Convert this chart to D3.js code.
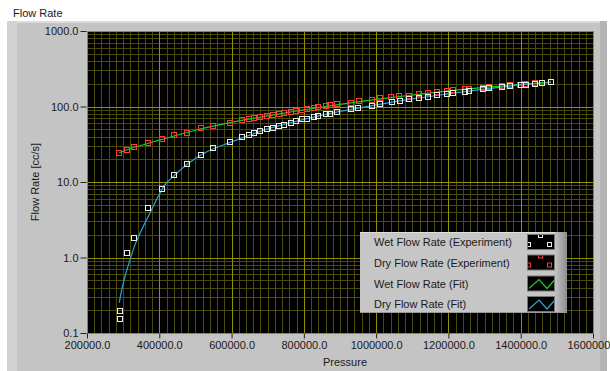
<!DOCTYPE html>
<html>
<head>
<meta charset="utf-8">
<script src="https://cdn.jsdelivr.net/npm/d3@7"></script>
<style>
  body { margin: 0; background: #fff; }
  svg text { font-family: "Liberation Sans", Arial, sans-serif; font-size: 11px; fill: #1a1a1a; }
</style>
</head>
<body>
<svg id="chart" width="610" height="371"></svg>
<script>
// measured points
const wetPressure = [290500, 290500, 309800, 330800, 369600, 407500, 441500, 477400, 514500, 549400, 596400, 629600, 647300, 661100, 679400, 698700, 713700, 731900, 744100, 764300, 778100, 795600, 808600, 828800, 838200, 861100, 872200, 891500, 929400, 950500, 987500, 1010500, 1042800, 1065800, 1091500, 1119200, 1144100, 1167300, 1195000, 1213200, 1245600, 1255800, 1294600, 1312800, 1347100, 1370100, 1399700, 1414300, 1439200, 1459400, 1482700];
const wetFlow = [0.152, 0.196, 1.14, 1.79, 4.53, 8.17, 12.4, 17.4, 22.9, 28.0, 33.4, 38.9, 41.3, 43.9, 46.7, 49.6, 52.3, 55.6, 57.3, 60.9, 63.4, 67.4, 68.9, 73.2, 74.6, 80.2, 80.2, 84.8, 91.5, 96.4, 101.2, 106.6, 114.4, 118.0, 124.2, 130.9, 134.9, 140.3, 146.1, 152.5, 157.2, 158.7, 168.8, 173.9, 183.2, 186.6, 194.8, 194.8, 200.9, 202.6, 210.9];

const dryPressure = [289300, 309800, 330800, 369600, 407500, 441500, 477400, 514500, 549400, 596400, 629600, 647300, 661100, 679400, 698700, 713700, 731900, 744100, 764300, 778100, 795600, 808600, 828800, 838200, 861100, 872200, 891500, 929400, 953200, 987500, 1010500, 1040900, 1063900, 1090700, 1118400, 1142400, 1167300, 1195000, 1213200, 1245600, 1255800, 1294600, 1312800, 1347100, 1370100, 1397700, 1411600, 1439200, 1459400, 1482700];
const dryFlow = [24.3, 26.4, 28.9, 32.4, 36.6, 41.3, 44.9, 51.2, 55.6, 60.9, 65.4, 68.9, 71.0, 73.2, 75.5, 76.9, 79.3, 81.7, 84.3, 87.9, 90.7, 93.5, 96.4, 98.2, 101.2, 103.5, 106.6, 112.3, 116.9, 121.6, 128.1, 132.2, 136.2, 139.1, 146.1, 149.3, 153.9, 162.2, 163.0, 172.3, 172.5, 177.7, 181.2, 188.9, 192.4, 194.8, 196.5, 202.6, 207.0, 210.9];

// fitted curves
const dryFitPressure = [289300, 330000, 400000, 500000, 600000, 700000, 800000, 900000, 1000000, 1100000, 1200000, 1300000, 1400000, 1482700];
const dryFitFlow = [24.5, 28.6, 35.8, 48.5, 61.5, 75, 90.5, 107, 124, 142, 161, 179, 196, 210];
const wetFitPressure = [289300, 296000, 305100, 318900, 332800, 351300, 374300, 397200, 415800, 441500, 480000, 520000, 600000, 700000, 800000, 900000, 1000000, 1100000, 1200000, 1300000, 1400000, 1482700];
const wetFitFlow = [0.253, 0.373, 0.56, 0.93, 1.47, 2.33, 3.89, 6.46, 9.23, 12.2, 17.6, 23.5, 34, 50.5, 67.5, 86, 105, 126, 147, 170, 193, 208];

const xTicks = [200000, 400000, 600000, 800000, 1000000, 1200000, 1400000, 1600000];
const yTicks = [0.1, 1, 10, 100, 1000];

const legendItems = ["Wet Flow Rate (Experiment)", "Dry Flow Rate (Experiment)", "Wet Flow Rate (Fit)", "Dry Flow Rate (Fit)"];

const svg = d3.select('#chart');
const plot = { left: 87, right: 593, top: 31, bottom: 333 };

const x = d3.scaleLinear().domain([200000, 1600000]).range([plot.left, plot.right]);
const y = d3.scaleLog().domain([0.1, 1000]).range([plot.bottom, plot.top]);

// panel frame
svg.append('rect').attr('x', 7).attr('y', 21).attr('width', 600).attr('height', 350).attr('fill', '#c4c4c4');
svg.append('rect').attr('x', 7).attr('y', 21).attr('width', 600).attr('height', 2).attr('fill', '#dcdcdc');
svg.append('rect').attr('x', 7).attr('y', 21).attr('width', 10).attr('height', 350).attr('fill', '#d2d2d2');
svg.append('rect').attr('x', 600).attr('y', 21).attr('width', 7).attr('height', 350).attr('fill', '#b4b4b4');

svg.append('text').attr('x', 13).attr('y', 17).text('Flow Rate');

// plot background
svg.append('rect')
    .attr('x', plot.left).attr('y', plot.top)
    .attr('width', plot.right - plot.left).attr('height', plot.bottom - plot.top)
    .attr('fill', '#000');

const grid = svg.append('g');

// minor grid
const xMinor = d3.range(200000, 1600001, 20000).filter(v => v % 200000 !== 0);
grid.selectAll('.xminor').data(xMinor).enter().append('line')
    .attr('x1', d => Math.round(x(d)) + 0.5).attr('x2', d => Math.round(x(d)) + 0.5)
    .attr('y1', plot.top).attr('y2', plot.bottom)
    .attr('stroke', '#4a4a0a');

const yMinor = [];
[0.1, 1, 10, 100].forEach(dec => { for (let k = 2; k <= 9; k++) yMinor.push(dec * k); });
grid.selectAll('.yminor').data(yMinor).enter().append('line')
    .attr('y1', d => Math.round(y(d)) + 0.5).attr('y2', d => Math.round(y(d)) + 0.5)
    .attr('x1', plot.left).attr('x2', plot.right)
    .attr('stroke', '#4a4a0a');

// major grid
grid.selectAll('.xmajor').data(xTicks).enter().append('line')
    .attr('x1', d => Math.round(x(d)) + 0.5).attr('x2', d => Math.round(x(d)) + 0.5)
    .attr('y1', plot.top).attr('y2', plot.bottom)
    .attr('stroke', '#929200');
grid.selectAll('.ymajor').data(yTicks).enter().append('line')
    .attr('y1', d => Math.round(y(d)) + 0.5).attr('y2', d => Math.round(y(d)) + 0.5)
    .attr('x1', plot.left).attr('x2', plot.right)
    .attr('stroke', '#929200');

// axes
const fmt = d3.format('.1f');
const yAxis = svg.append('g')
    .attr('transform', `translate(${plot.left - 0.5},0)`)
    .call(d3.axisLeft(y).tickValues(yTicks).tickFormat(fmt).tickSize(6).tickPadding(2));
const xAxis = svg.append('g')
    .attr('transform', `translate(0,${plot.bottom + 0.5})`)
    .call(d3.axisBottom(x).tickValues(xTicks).tickFormat(fmt).tickSize(5).tickPadding(3));
[xAxis, yAxis].forEach(a => {
    a.select('.domain').remove();
    a.selectAll('line').attr('stroke', '#222');
    a.selectAll('text').attr('font-size', null).attr('font-family', null).attr('fill', '#1a1a1a');
});

svg.append('text').attr('x', 345).attr('y', 366).attr('text-anchor', 'middle').text('Pressure');
svg.append('text')
    .attr('transform', 'translate(39,182) rotate(-90)')
    .attr('text-anchor', 'middle')
    .text('Flow Rate [cc/s]');

// fit lines
const line = d3.line()
    .x(d => x(d[0])).y(d => y(d[1]))
    .curve(d3.curveMonotoneX);

svg.append('path')
    .datum(d3.zip(dryFitPressure, dryFitFlow))
    .attr('d', line).attr('fill', 'none').attr('stroke', '#18d018').attr('stroke-width', 1.2);
svg.append('path')
    .datum(d3.zip(wetFitPressure, wetFitFlow))
    .attr('d', line).attr('fill', 'none').attr('stroke', '#2fa3d6').attr('stroke-width', 1.2);

// markers
function squares(px, fy, color) {
    svg.append('g').selectAll('rect').data(d3.zip(px, fy)).enter().append('rect')
        .attr('x', d => Math.round(x(d[0])) - 2.5)
        .attr('y', d => Math.round(y(d[1])) - 2.5)
        .attr('width', 5).attr('height', 5)
        .attr('fill', 'none').attr('stroke', color).attr('stroke-width', 1);
}
squares(dryPressure, dryFlow, '#ff3a3a');
squares(wetPressure, wetFlow, '#ececec');

// legend
const lg = svg.append('g').attr('transform', 'translate(360,232)');
const defs = svg.append('defs');
const grad = defs.append('linearGradient').attr('id', 'bevel');
grad.append('stop').attr('offset', '0%').attr('stop-color', '#c4c4c4');
grad.append('stop').attr('offset', '100%').attr('stop-color', '#8c8c8c');

lg.append('rect').attr('width', 207).attr('height', 81).attr('fill', '#c6c6c6');
lg.append('rect').attr('width', 207).attr('height', 1).attr('fill', '#dedede');
lg.append('rect').attr('x', 195).attr('width', 12).attr('height', 81).attr('fill', 'url(#bevel)');
lg.append('rect').attr('y', 80).attr('width', 207).attr('height', 1).attr('fill', '#9a9a9a');

const rowY = [10, 30.5, 51.5, 72];
legendItems.forEach((name, i) => {
    lg.append('text').attr('x', 14).attr('y', rowY[i] + 4).text(name);
    const sw = lg.append('g').attr('transform', `translate(167,${rowY[i] - 8})`);
    const clipId = 'sw' + i;
    defs.append('clipPath').attr('id', clipId).append('rect').attr('x', 1).attr('y', 1).attr('width', 26).attr('height', 14);
    sw.append('rect').attr('x', 0.5).attr('y', 0.5).attr('width', 27).attr('height', 15)
        .attr('fill', '#000').attr('stroke', '#777');
    const g = sw.append('g').attr('clip-path', `url(#${clipId})`);
    if (i < 2) {
        const c = i === 0 ? '#ececec' : '#ff3a3a';
        [[11, -1], [-1, 8], [20, 8]].forEach(p => {
            g.append('rect').attr('x', p[0] + 0.5).attr('y', p[1] + 0.5).attr('width', 4).attr('height', 4)
                .attr('fill', 'none').attr('stroke', c);
        });
    } else {
        const c = i === 2 ? '#18d018' : '#2fa3d6';
        g.append('path').attr('d', 'M2,13 L12,4 L20,13 L27,5')
            .attr('fill', 'none').attr('stroke', c).attr('stroke-width', 1.2);
    }
});
</script>
</body>
</html>
